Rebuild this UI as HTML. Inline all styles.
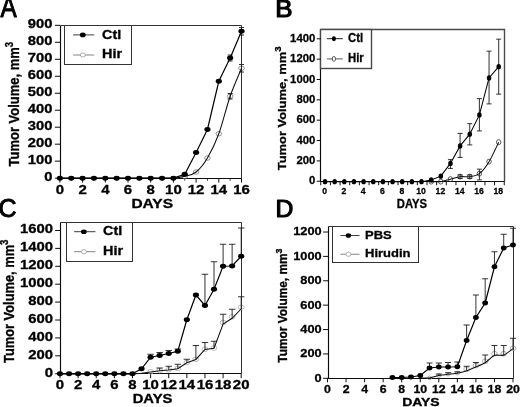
<!DOCTYPE html>
<html lang="en"><head><meta charset="utf-8"><title>Tumor volume figure</title>
<style>
html,body{margin:0;padding:0;background:#fff;overflow:hidden}
svg{display:block;font-family:"Liberation Sans",sans-serif}
</style></head>
<body>
<svg width="520" height="407" viewBox="0 0 520 407">
<defs><filter id="soft0" x="0" y="0" width="100%" height="100%" filterUnits="userSpaceOnUse"><feGaussianBlur stdDeviation="0.22"/></filter><filter id="soft" x="0" y="0" width="100%" height="100%" filterUnits="userSpaceOnUse"><feGaussianBlur stdDeviation="0.4"/></filter></defs>
<rect width="520" height="407" fill="#fff"/>
<g filter="url(#soft0)">
<path d="M60.5 25.5H241.5V178.5" fill="none" stroke="#333" stroke-width="1"/>
<path d="M60.5 25.5V178.5H241.5" fill="none" stroke="#111" stroke-width="1.15"/>
<rect x="64.5" y="25.5" width="67.0" height="39.0" fill="#fff" stroke="#333" stroke-width="1"/>
<path d="M320.5 29.5H504.5V181.5" fill="none" stroke="#4a4a4a" stroke-width="1.4"/>
<path d="M320.5 29.5V181.5H504.5" fill="none" stroke="#111" stroke-width="1.15"/>
<rect x="320.5" y="29.5" width="51.0" height="39.0" fill="#fff" stroke="#4a4a4a" stroke-width="1.4"/>
<path d="M60.5 222.5H241.5V373.5" fill="none" stroke="#333" stroke-width="1"/>
<path d="M60.5 222.5V373.5H241.5" fill="none" stroke="#111" stroke-width="1.15"/>
<rect x="66.5" y="222.5" width="66.0" height="39.0" fill="#fff" stroke="#333" stroke-width="1"/>
<path d="M328.5 226.5H513.5V378.5" fill="none" stroke="#333" stroke-width="1"/>
<path d="M328.5 226.5V378.5H513.5" fill="none" stroke="#111" stroke-width="1.15"/>
<rect x="332.5" y="226.5" width="86.0" height="36.0" fill="#fff" stroke="#333" stroke-width="1"/>
</g>
<g filter="url(#soft)">
<path d="M54.90 178.15H60.1" stroke="#111" stroke-width="1"/>
<text transform="translate(52.40,181.25) scale(1.2,1.0)" font-size="12.3" text-anchor="end" font-weight="bold" fill="#000" stroke="#000" stroke-width="0.3">0</text>
<path d="M54.90 161.17H60.1" stroke="#111" stroke-width="1"/>
<text transform="translate(52.40,164.27) scale(1.2,1.0)" font-size="12.3" text-anchor="end" font-weight="bold" fill="#000" stroke="#000" stroke-width="0.3">100</text>
<path d="M54.90 144.19H60.1" stroke="#111" stroke-width="1"/>
<text transform="translate(52.40,147.29) scale(1.2,1.0)" font-size="12.3" text-anchor="end" font-weight="bold" fill="#000" stroke="#000" stroke-width="0.3">200</text>
<path d="M54.90 127.21H60.1" stroke="#111" stroke-width="1"/>
<text transform="translate(52.40,130.31) scale(1.2,1.0)" font-size="12.3" text-anchor="end" font-weight="bold" fill="#000" stroke="#000" stroke-width="0.3">300</text>
<path d="M54.90 110.23H60.1" stroke="#111" stroke-width="1"/>
<text transform="translate(52.40,113.33) scale(1.2,1.0)" font-size="12.3" text-anchor="end" font-weight="bold" fill="#000" stroke="#000" stroke-width="0.3">400</text>
<path d="M54.90 93.25H60.1" stroke="#111" stroke-width="1"/>
<text transform="translate(52.40,96.35) scale(1.2,1.0)" font-size="12.3" text-anchor="end" font-weight="bold" fill="#000" stroke="#000" stroke-width="0.3">500</text>
<path d="M54.90 76.27H60.1" stroke="#111" stroke-width="1"/>
<text transform="translate(52.40,79.37) scale(1.2,1.0)" font-size="12.3" text-anchor="end" font-weight="bold" fill="#000" stroke="#000" stroke-width="0.3">600</text>
<path d="M54.90 59.29H60.1" stroke="#111" stroke-width="1"/>
<text transform="translate(52.40,62.39) scale(1.2,1.0)" font-size="12.3" text-anchor="end" font-weight="bold" fill="#000" stroke="#000" stroke-width="0.3">700</text>
<path d="M54.90 42.31H60.1" stroke="#111" stroke-width="1"/>
<text transform="translate(52.40,45.41) scale(1.2,1.0)" font-size="12.3" text-anchor="end" font-weight="bold" fill="#000" stroke="#000" stroke-width="0.3">800</text>
<path d="M54.90 25.33H60.1" stroke="#111" stroke-width="1"/>
<text transform="translate(52.40,28.43) scale(1.2,1.0)" font-size="12.3" text-anchor="end" font-weight="bold" fill="#000" stroke="#000" stroke-width="0.3">900</text>
<path d="M59.90 178.15V182.55" stroke="#111" stroke-width="1"/>
<path d="M82.60 178.15V182.55" stroke="#111" stroke-width="1"/>
<path d="M105.30 178.15V182.55" stroke="#111" stroke-width="1"/>
<path d="M128.00 178.15V182.55" stroke="#111" stroke-width="1"/>
<path d="M150.70 178.15V182.55" stroke="#111" stroke-width="1"/>
<path d="M173.40 178.15V182.55" stroke="#111" stroke-width="1"/>
<path d="M196.10 178.15V182.55" stroke="#111" stroke-width="1"/>
<path d="M218.80 178.15V182.55" stroke="#111" stroke-width="1"/>
<path d="M241.50 178.15V182.55" stroke="#111" stroke-width="1"/>
<path d="M71.25 178.15V180.75" stroke="#111" stroke-width="0.8"/>
<path d="M93.95 178.15V180.75" stroke="#111" stroke-width="0.8"/>
<path d="M116.65 178.15V180.75" stroke="#111" stroke-width="0.8"/>
<path d="M139.35 178.15V180.75" stroke="#111" stroke-width="0.8"/>
<path d="M162.05 178.15V180.75" stroke="#111" stroke-width="0.8"/>
<path d="M184.75 178.15V180.75" stroke="#111" stroke-width="0.8"/>
<path d="M207.45 178.15V180.75" stroke="#111" stroke-width="0.8"/>
<path d="M230.15 178.15V180.75" stroke="#111" stroke-width="0.8"/>
<text transform="translate(59.90,194.00) scale(1.17,1.0)" font-size="12.8" text-anchor="middle" font-weight="bold" fill="#000" stroke="#000" stroke-width="0.3">0</text>
<text transform="translate(82.60,194.00) scale(1.17,1.0)" font-size="12.8" text-anchor="middle" font-weight="bold" fill="#000" stroke="#000" stroke-width="0.3">2</text>
<text transform="translate(105.30,194.00) scale(1.17,1.0)" font-size="12.8" text-anchor="middle" font-weight="bold" fill="#000" stroke="#000" stroke-width="0.3">4</text>
<text transform="translate(128.00,194.00) scale(1.17,1.0)" font-size="12.8" text-anchor="middle" font-weight="bold" fill="#000" stroke="#000" stroke-width="0.3">6</text>
<text transform="translate(150.70,194.00) scale(1.17,1.0)" font-size="12.8" text-anchor="middle" font-weight="bold" fill="#000" stroke="#000" stroke-width="0.3">8</text>
<text transform="translate(173.40,194.00) scale(1.17,1.0)" font-size="12.8" text-anchor="middle" font-weight="bold" fill="#000" stroke="#000" stroke-width="0.3">10</text>
<text transform="translate(196.10,194.00) scale(1.17,1.0)" font-size="12.8" text-anchor="middle" font-weight="bold" fill="#000" stroke="#000" stroke-width="0.3">12</text>
<text transform="translate(218.80,194.00) scale(1.17,1.0)" font-size="12.8" text-anchor="middle" font-weight="bold" fill="#000" stroke="#000" stroke-width="0.3">14</text>
<text transform="translate(241.50,194.00) scale(1.17,1.0)" font-size="12.8" text-anchor="middle" font-weight="bold" fill="#000" stroke="#000" stroke-width="0.3">16</text>
<text transform="translate(152.20,208.00) scale(1.29,1.0)" font-size="12" text-anchor="middle" font-weight="bold" fill="#000" stroke="#000" stroke-width="0.3">DAYS</text>
<text transform="translate(18.90,104.15) rotate(-90) scale(1.03,1.22)" font-size="12.6" text-anchor="middle" font-weight="bold" fill="#000" stroke="#000" stroke-width="0.3">Tumor Volume, mm<tspan font-size="9.4" dy="-4.8">3</tspan></text>
<text transform="translate(0.50,17.20) scale(0.81,1.0)" font-size="30" text-anchor="start" font-weight="normal" fill="#000" stroke="#000" stroke-width="1.0" stroke-linejoin="round">A</text>
<g transform="translate(0,0)">
<ellipse cx="184.75" cy="176.3" rx="2.80" ry="2.24" fill="none" stroke="#777" stroke-width="0.8"/>
<ellipse cx="196.10" cy="172" rx="2.80" ry="2.24" fill="none" stroke="#777" stroke-width="0.8"/>
<ellipse cx="207.45" cy="158" rx="2.80" ry="2.24" fill="none" stroke="#777" stroke-width="0.8"/>
<ellipse cx="218.80" cy="133.75" rx="2.80" ry="2.24" fill="none" stroke="#777" stroke-width="0.8"/>
<ellipse cx="230.15" cy="96.25" rx="2.80" ry="2.24" fill="none" stroke="#777" stroke-width="0.8"/>
<ellipse cx="241.50" cy="68.25" rx="2.80" ry="2.24" fill="none" stroke="#777" stroke-width="0.8"/>
<path d="M230.15 93.5V99M227.65 93.5h5.0" stroke="#1c1c1c" stroke-width="0.9" fill="none"/>
<path d="M227.65 99h5.0" stroke="#1c1c1c" stroke-width="0.9" fill="none"/>
<path d="M241.50 64.5V72M239.00 64.5h5.0" stroke="#1c1c1c" stroke-width="0.9" fill="none"/>
<path d="M239.00 72h5.0" stroke="#1c1c1c" stroke-width="0.9" fill="none"/>
<path d="M59.90 178.15C61.79 178.15 67.47 178.15 71.25 178.15C75.03 178.15 78.82 178.15 82.60 178.15C86.38 178.15 90.17 178.15 93.95 178.15C97.73 178.15 101.52 178.15 105.30 178.15C109.08 178.15 112.87 178.15 116.65 178.15C120.43 178.15 124.22 178.15 128.00 178.15C131.78 178.15 135.57 178.15 139.35 178.15C143.13 178.15 146.92 178.15 150.70 178.15C154.48 178.15 158.27 178.15 162.05 178.15C165.83 178.15 169.62 178.46 173.40 178.15C177.18 177.84 180.97 177.33 184.75 176.30C188.53 175.28 192.32 175.05 196.10 172.00C199.88 168.95 203.67 164.38 207.45 158.00C211.23 151.62 215.02 144.04 218.80 133.75C222.58 123.46 226.37 107.17 230.15 96.25C233.93 85.33 239.61 72.92 241.50 68.25" fill="none" stroke="#111" stroke-width="1.05"/>
<path d="M230.15 55V61M227.65 55h5.0" stroke="#1c1c1c" stroke-width="0.9" fill="none"/>
<path d="M227.65 61h5.0" stroke="#1c1c1c" stroke-width="0.9" fill="none"/>
<path d="M241.50 27.5V35M239.00 27.5h5.0" stroke="#1c1c1c" stroke-width="0.9" fill="none"/>
<path d="M239.00 35h5.0" stroke="#1c1c1c" stroke-width="0.9" fill="none"/>
<polyline points="59.90,178.15 71.25,178.15 82.60,178.15 93.95,178.15 105.30,178.15 116.65,178.15 128.00,178.15 139.35,178.15 150.70,178.15 162.05,178.15 173.40,178.15 184.75,174.25 196.10,152.5 207.45,129.5 218.80,81.25 230.15,58 241.50,31.25" fill="none" stroke="#000" stroke-width="1.2"/>
<ellipse cx="59.90" cy="178.15" rx="3.1" ry="2.48" fill="#000"/>
<ellipse cx="71.25" cy="178.15" rx="3.1" ry="2.48" fill="#000"/>
<ellipse cx="82.60" cy="178.15" rx="3.1" ry="2.48" fill="#000"/>
<ellipse cx="93.95" cy="178.15" rx="3.1" ry="2.48" fill="#000"/>
<ellipse cx="105.30" cy="178.15" rx="3.1" ry="2.48" fill="#000"/>
<ellipse cx="116.65" cy="178.15" rx="3.1" ry="2.48" fill="#000"/>
<ellipse cx="128.00" cy="178.15" rx="3.1" ry="2.48" fill="#000"/>
<ellipse cx="139.35" cy="178.15" rx="3.1" ry="2.48" fill="#000"/>
<ellipse cx="150.70" cy="178.15" rx="3.1" ry="2.48" fill="#000"/>
<ellipse cx="162.05" cy="178.15" rx="3.1" ry="2.48" fill="#000"/>
<ellipse cx="173.40" cy="178.15" rx="3.1" ry="2.48" fill="#000"/>
<ellipse cx="184.75" cy="174.25" rx="3.1" ry="2.48" fill="#000"/>
<ellipse cx="196.10" cy="152.5" rx="3.1" ry="2.48" fill="#000"/>
<ellipse cx="207.45" cy="129.5" rx="3.1" ry="2.48" fill="#000"/>
<ellipse cx="218.80" cy="81.25" rx="3.1" ry="2.48" fill="#000"/>
<ellipse cx="230.15" cy="58" rx="3.1" ry="2.48" fill="#000"/>
<ellipse cx="241.50" cy="31.25" rx="3.1" ry="2.48" fill="#000"/>
</g>
<path d="M73.1 34.9H94.2" stroke="#333" stroke-width="0.95"/>
<ellipse cx="82.8" cy="34.9" rx="2.9" ry="2.32" fill="#000"/>
<path d="M73.1 55.0H94.2" stroke="#777" stroke-width="0.9"/>
<ellipse cx="82.8" cy="55.0" rx="2.5" ry="2.00" fill="#fff" stroke="#999" stroke-width="0.8"/>
<text transform="translate(102.00,38.90) scale(1.2,1.0)" font-size="12" text-anchor="start" font-weight="bold" fill="#000" stroke="#000" stroke-width="0.3">Ctl</text>
<text transform="translate(102.00,58.00) scale(1.2,1.0)" font-size="12" text-anchor="start" font-weight="bold" fill="#000" stroke="#000" stroke-width="0.3">Hir</text>
<path d="M316.75 181.25H320.75" stroke="#111" stroke-width="1"/>
<text transform="translate(315.25,184.35) scale(0.96,1.0)" font-size="11.8" text-anchor="end" font-weight="bold" fill="#000" stroke="#000" stroke-width="0.3">0</text>
<path d="M316.75 160.90H320.75" stroke="#111" stroke-width="1"/>
<text transform="translate(315.25,164.00) scale(0.96,1.0)" font-size="11.8" text-anchor="end" font-weight="bold" fill="#000" stroke="#000" stroke-width="0.3">200</text>
<path d="M316.75 140.55H320.75" stroke="#111" stroke-width="1"/>
<text transform="translate(315.25,143.65) scale(0.96,1.0)" font-size="11.8" text-anchor="end" font-weight="bold" fill="#000" stroke="#000" stroke-width="0.3">400</text>
<path d="M316.75 120.20H320.75" stroke="#111" stroke-width="1"/>
<text transform="translate(315.25,123.30) scale(0.96,1.0)" font-size="11.8" text-anchor="end" font-weight="bold" fill="#000" stroke="#000" stroke-width="0.3">600</text>
<path d="M316.75 99.85H320.75" stroke="#111" stroke-width="1"/>
<text transform="translate(315.25,102.95) scale(0.96,1.0)" font-size="11.8" text-anchor="end" font-weight="bold" fill="#000" stroke="#000" stroke-width="0.3">800</text>
<path d="M316.75 79.50H320.75" stroke="#111" stroke-width="1"/>
<text transform="translate(315.25,82.60) scale(0.96,1.0)" font-size="11.8" text-anchor="end" font-weight="bold" fill="#000" stroke="#000" stroke-width="0.3">1000</text>
<path d="M316.75 59.15H320.75" stroke="#111" stroke-width="1"/>
<text transform="translate(315.25,62.25) scale(0.96,1.0)" font-size="11.8" text-anchor="end" font-weight="bold" fill="#000" stroke="#000" stroke-width="0.3">1200</text>
<path d="M316.75 38.80H320.75" stroke="#111" stroke-width="1"/>
<text transform="translate(315.25,41.90) scale(0.96,1.0)" font-size="11.8" text-anchor="end" font-weight="bold" fill="#000" stroke="#000" stroke-width="0.3">1400</text>
<path d="M320.75 181.25V185.25" stroke="#111" stroke-width="1"/>
<path d="M330.41 181.25V185.25" stroke="#111" stroke-width="1"/>
<path d="M340.07 181.25V185.25" stroke="#111" stroke-width="1"/>
<path d="M349.72 181.25V185.25" stroke="#111" stroke-width="1"/>
<path d="M359.38 181.25V185.25" stroke="#111" stroke-width="1"/>
<path d="M369.04 181.25V185.25" stroke="#111" stroke-width="1"/>
<path d="M378.70 181.25V185.25" stroke="#111" stroke-width="1"/>
<path d="M388.36 181.25V185.25" stroke="#111" stroke-width="1"/>
<path d="M398.01 181.25V185.25" stroke="#111" stroke-width="1"/>
<path d="M407.67 181.25V185.25" stroke="#111" stroke-width="1"/>
<path d="M417.33 181.25V185.25" stroke="#111" stroke-width="1"/>
<path d="M426.99 181.25V185.25" stroke="#111" stroke-width="1"/>
<path d="M436.65 181.25V185.25" stroke="#111" stroke-width="1"/>
<path d="M446.30 181.25V185.25" stroke="#111" stroke-width="1"/>
<path d="M455.96 181.25V185.25" stroke="#111" stroke-width="1"/>
<path d="M465.62 181.25V185.25" stroke="#111" stroke-width="1"/>
<path d="M475.28 181.25V185.25" stroke="#111" stroke-width="1"/>
<path d="M484.94 181.25V185.25" stroke="#111" stroke-width="1"/>
<path d="M494.59 181.25V185.25" stroke="#111" stroke-width="1"/>
<path d="M504.25 181.25V185.25" stroke="#111" stroke-width="1"/>
<text transform="translate(324.60,194.20) scale(0.92,1.0)" font-size="9.4" text-anchor="middle" font-weight="bold" fill="#000" stroke="#000" stroke-width="0.3">0</text>
<text transform="translate(343.90,194.20) scale(0.92,1.0)" font-size="9.4" text-anchor="middle" font-weight="bold" fill="#000" stroke="#000" stroke-width="0.3">2</text>
<text transform="translate(363.20,194.20) scale(0.92,1.0)" font-size="9.4" text-anchor="middle" font-weight="bold" fill="#000" stroke="#000" stroke-width="0.3">4</text>
<text transform="translate(382.50,194.20) scale(0.92,1.0)" font-size="9.4" text-anchor="middle" font-weight="bold" fill="#000" stroke="#000" stroke-width="0.3">6</text>
<text transform="translate(401.80,194.20) scale(0.92,1.0)" font-size="9.4" text-anchor="middle" font-weight="bold" fill="#000" stroke="#000" stroke-width="0.3">8</text>
<text transform="translate(421.10,194.20) scale(0.92,1.0)" font-size="9.4" text-anchor="middle" font-weight="bold" fill="#000" stroke="#000" stroke-width="0.3">10</text>
<text transform="translate(440.40,194.20) scale(0.92,1.0)" font-size="9.4" text-anchor="middle" font-weight="bold" fill="#000" stroke="#000" stroke-width="0.3">12</text>
<text transform="translate(459.70,194.20) scale(0.92,1.0)" font-size="9.4" text-anchor="middle" font-weight="bold" fill="#000" stroke="#000" stroke-width="0.3">14</text>
<text transform="translate(479.00,194.20) scale(0.92,1.0)" font-size="9.4" text-anchor="middle" font-weight="bold" fill="#000" stroke="#000" stroke-width="0.3">16</text>
<text transform="translate(498.30,194.20) scale(0.92,1.0)" font-size="9.4" text-anchor="middle" font-weight="bold" fill="#000" stroke="#000" stroke-width="0.3">18</text>
<text transform="translate(411.90,208.20) scale(0.94,1.0)" font-size="12" text-anchor="middle" font-weight="bold" fill="#000" stroke="#000" stroke-width="0.3">DAYS</text>
<text transform="translate(285.80,108.30) rotate(-90) scale(1.14,1.02)" font-size="11.3" text-anchor="middle" font-weight="bold" fill="#000" stroke="#000" stroke-width="0.3">Tumor Volume, mm<tspan font-size="8.5" dy="-4.3">3</tspan></text>
<text transform="translate(275.30,17.30) scale(1.08,1.0)" font-size="24" text-anchor="start" font-weight="normal" fill="#000" stroke="#000" stroke-width="1.15" stroke-linejoin="round">B</text>
<g transform="translate(0.4,0.4)">
<ellipse cx="430.75" cy="181.25" rx="2.25" ry="2.48" fill="none" stroke="#333" stroke-width="0.8"/>
<ellipse cx="440.40" cy="181.25" rx="2.25" ry="2.48" fill="none" stroke="#333" stroke-width="0.8"/>
<ellipse cx="450.05" cy="178.75" rx="2.25" ry="2.48" fill="none" stroke="#333" stroke-width="0.8"/>
<ellipse cx="459.70" cy="176.25" rx="2.25" ry="2.48" fill="none" stroke="#333" stroke-width="0.8"/>
<ellipse cx="469.35" cy="176.25" rx="2.25" ry="2.48" fill="none" stroke="#333" stroke-width="0.8"/>
<ellipse cx="479.00" cy="173.25" rx="2.25" ry="2.48" fill="none" stroke="#333" stroke-width="0.8"/>
<ellipse cx="488.65" cy="161.25" rx="2.25" ry="2.48" fill="none" stroke="#333" stroke-width="0.8"/>
<ellipse cx="498.30" cy="141.75" rx="2.25" ry="2.48" fill="none" stroke="#333" stroke-width="0.8"/>
<path d="M459.70 174.5V178M457.20 174.5h5.0" stroke="#1c1c1c" stroke-width="0.9" fill="none"/>
<path d="M457.20 178h5.0" stroke="#1c1c1c" stroke-width="0.9" fill="none"/>
<path d="M469.35 174.5V178M466.85 174.5h5.0" stroke="#1c1c1c" stroke-width="0.9" fill="none"/>
<path d="M466.85 178h5.0" stroke="#1c1c1c" stroke-width="0.9" fill="none"/>
<path d="M479.00 168.75V179.5M476.50 168.75h5.0" stroke="#1c1c1c" stroke-width="0.9" fill="none"/>
<path d="M476.50 179.5h5.0" stroke="#1c1c1c" stroke-width="0.9" fill="none"/>
<path d="M430.75 181.25C432.36 181.25 437.18 181.67 440.40 181.25C443.62 180.83 446.83 179.58 450.05 178.75C453.27 177.92 456.48 176.67 459.70 176.25C462.92 175.83 466.13 176.75 469.35 176.25C472.57 175.75 475.78 175.75 479.00 173.25C482.22 170.75 485.43 166.50 488.65 161.25C491.87 156.00 496.69 145.00 498.30 141.75" fill="none" stroke="#111" stroke-width="1.05"/>
<path d="M450.05 159.25V168M447.55 159.25h5.0" stroke="#1c1c1c" stroke-width="0.9" fill="none"/>
<path d="M447.55 168h5.0" stroke="#1c1c1c" stroke-width="0.9" fill="none"/>
<path d="M459.70 133V157M457.20 133h5.0" stroke="#1c1c1c" stroke-width="0.9" fill="none"/>
<path d="M457.20 157h5.0" stroke="#1c1c1c" stroke-width="0.9" fill="none"/>
<path d="M469.35 123.25V144.5M466.85 123.25h5.0" stroke="#1c1c1c" stroke-width="0.9" fill="none"/>
<path d="M466.85 144.5h5.0" stroke="#1c1c1c" stroke-width="0.9" fill="none"/>
<path d="M479.00 98.25V130.5M476.50 98.25h5.0" stroke="#1c1c1c" stroke-width="0.9" fill="none"/>
<path d="M476.50 130.5h5.0" stroke="#1c1c1c" stroke-width="0.9" fill="none"/>
<path d="M488.65 50.75V103.5M486.15 50.75h5.0" stroke="#1c1c1c" stroke-width="0.9" fill="none"/>
<path d="M486.15 103.5h5.0" stroke="#1c1c1c" stroke-width="0.9" fill="none"/>
<path d="M498.30 38.75V93.75M495.80 38.75h5.0" stroke="#1c1c1c" stroke-width="0.9" fill="none"/>
<path d="M495.80 93.75h5.0" stroke="#1c1c1c" stroke-width="0.9" fill="none"/>
<polyline points="324.60,181.25 334.25,181.25 343.90,181.25 353.55,181.25 363.20,181.25 372.85,181.25 382.50,181.25 392.15,181.25 401.80,181.25 411.45,181.25 421.10,181.25 430.75,179.5 440.40,175.75 450.05,163 459.70,145.5 469.35,133.75 479.00,114.5 488.65,77.5 498.30,66.25" fill="none" stroke="#000" stroke-width="1.05"/>
<ellipse cx="324.60" cy="181.25" rx="2.25" ry="2.70" fill="#000"/>
<ellipse cx="334.25" cy="181.25" rx="2.25" ry="2.70" fill="#000"/>
<ellipse cx="343.90" cy="181.25" rx="2.25" ry="2.70" fill="#000"/>
<ellipse cx="353.55" cy="181.25" rx="2.25" ry="2.70" fill="#000"/>
<ellipse cx="363.20" cy="181.25" rx="2.25" ry="2.70" fill="#000"/>
<ellipse cx="372.85" cy="181.25" rx="2.25" ry="2.70" fill="#000"/>
<ellipse cx="382.50" cy="181.25" rx="2.25" ry="2.70" fill="#000"/>
<ellipse cx="392.15" cy="181.25" rx="2.25" ry="2.70" fill="#000"/>
<ellipse cx="401.80" cy="181.25" rx="2.25" ry="2.70" fill="#000"/>
<ellipse cx="411.45" cy="181.25" rx="2.25" ry="2.70" fill="#000"/>
<ellipse cx="421.10" cy="181.25" rx="2.25" ry="2.70" fill="#000"/>
<ellipse cx="430.75" cy="179.5" rx="2.25" ry="2.70" fill="#000"/>
<ellipse cx="440.40" cy="175.75" rx="2.25" ry="2.70" fill="#000"/>
<ellipse cx="450.05" cy="163" rx="2.25" ry="2.70" fill="#000"/>
<ellipse cx="459.70" cy="145.5" rx="2.25" ry="2.70" fill="#000"/>
<ellipse cx="469.35" cy="133.75" rx="2.25" ry="2.70" fill="#000"/>
<ellipse cx="479.00" cy="114.5" rx="2.25" ry="2.70" fill="#000"/>
<ellipse cx="488.65" cy="77.5" rx="2.25" ry="2.70" fill="#000"/>
<ellipse cx="498.30" cy="66.25" rx="2.25" ry="2.70" fill="#000"/>
</g>
<path d="M327 38.7H342.8" stroke="#222" stroke-width="1.0"/>
<ellipse cx="333.9" cy="38.7" rx="2.05" ry="2.46" fill="#000"/>
<path d="M327 58.9H342.8" stroke="#444" stroke-width="0.9"/>
<ellipse cx="333.9" cy="58.9" rx="1.6" ry="2.50" fill="#fff" stroke="#333" stroke-width="0.8"/>
<text transform="translate(348.00,42.10) scale(0.9,1.0)" font-size="12.6" text-anchor="start" font-weight="bold" fill="#000" stroke="#000" stroke-width="0.3">Ctl</text>
<text transform="translate(348.00,61.60) scale(0.9,1.0)" font-size="12.6" text-anchor="start" font-weight="bold" fill="#000" stroke="#000" stroke-width="0.3">Hir</text>
<path d="M55.20 373.70H60.2" stroke="#111" stroke-width="1"/>
<text transform="translate(53.00,376.60) scale(1.21,1.0)" font-size="12.3" text-anchor="end" font-weight="bold" fill="#000" stroke="#000" stroke-width="0.3">0</text>
<path d="M55.20 355.80H60.2" stroke="#111" stroke-width="1"/>
<text transform="translate(53.00,358.70) scale(1.21,1.0)" font-size="12.3" text-anchor="end" font-weight="bold" fill="#000" stroke="#000" stroke-width="0.3">200</text>
<path d="M55.20 337.90H60.2" stroke="#111" stroke-width="1"/>
<text transform="translate(53.00,340.80) scale(1.21,1.0)" font-size="12.3" text-anchor="end" font-weight="bold" fill="#000" stroke="#000" stroke-width="0.3">400</text>
<path d="M55.20 320.00H60.2" stroke="#111" stroke-width="1"/>
<text transform="translate(53.00,322.90) scale(1.21,1.0)" font-size="12.3" text-anchor="end" font-weight="bold" fill="#000" stroke="#000" stroke-width="0.3">600</text>
<path d="M55.20 302.10H60.2" stroke="#111" stroke-width="1"/>
<text transform="translate(53.00,305.00) scale(1.21,1.0)" font-size="12.3" text-anchor="end" font-weight="bold" fill="#000" stroke="#000" stroke-width="0.3">800</text>
<path d="M55.20 284.20H60.2" stroke="#111" stroke-width="1"/>
<text transform="translate(53.00,287.10) scale(1.21,1.0)" font-size="12.3" text-anchor="end" font-weight="bold" fill="#000" stroke="#000" stroke-width="0.3">1000</text>
<path d="M55.20 266.30H60.2" stroke="#111" stroke-width="1"/>
<text transform="translate(53.00,269.20) scale(1.21,1.0)" font-size="12.3" text-anchor="end" font-weight="bold" fill="#000" stroke="#000" stroke-width="0.3">1200</text>
<path d="M55.20 248.40H60.2" stroke="#111" stroke-width="1"/>
<text transform="translate(53.00,251.30) scale(1.21,1.0)" font-size="12.3" text-anchor="end" font-weight="bold" fill="#000" stroke="#000" stroke-width="0.3">1400</text>
<path d="M55.20 230.50H60.2" stroke="#111" stroke-width="1"/>
<text transform="translate(53.00,233.40) scale(1.21,1.0)" font-size="12.3" text-anchor="end" font-weight="bold" fill="#000" stroke="#000" stroke-width="0.3">1600</text>
<path d="M60.00 373.7V378.2" stroke="#111" stroke-width="1"/>
<path d="M78.12 373.7V378.2" stroke="#111" stroke-width="1"/>
<path d="M96.24 373.7V378.2" stroke="#111" stroke-width="1"/>
<path d="M114.36 373.7V378.2" stroke="#111" stroke-width="1"/>
<path d="M132.48 373.7V378.2" stroke="#111" stroke-width="1"/>
<path d="M150.60 373.7V378.2" stroke="#111" stroke-width="1"/>
<path d="M168.72 373.7V378.2" stroke="#111" stroke-width="1"/>
<path d="M186.84 373.7V378.2" stroke="#111" stroke-width="1"/>
<path d="M204.96 373.7V378.2" stroke="#111" stroke-width="1"/>
<path d="M223.08 373.7V378.2" stroke="#111" stroke-width="1"/>
<path d="M241.20 373.7V378.2" stroke="#111" stroke-width="1"/>
<text transform="translate(60.00,388.90) scale(1.17,1.0)" font-size="12.8" text-anchor="middle" font-weight="bold" fill="#000" stroke="#000" stroke-width="0.3">0</text>
<text transform="translate(78.12,388.90) scale(1.17,1.0)" font-size="12.8" text-anchor="middle" font-weight="bold" fill="#000" stroke="#000" stroke-width="0.3">2</text>
<text transform="translate(96.24,388.90) scale(1.17,1.0)" font-size="12.8" text-anchor="middle" font-weight="bold" fill="#000" stroke="#000" stroke-width="0.3">4</text>
<text transform="translate(114.36,388.90) scale(1.17,1.0)" font-size="12.8" text-anchor="middle" font-weight="bold" fill="#000" stroke="#000" stroke-width="0.3">6</text>
<text transform="translate(132.48,388.90) scale(1.17,1.0)" font-size="12.8" text-anchor="middle" font-weight="bold" fill="#000" stroke="#000" stroke-width="0.3">8</text>
<text transform="translate(150.60,388.90) scale(1.17,1.0)" font-size="12.8" text-anchor="middle" font-weight="bold" fill="#000" stroke="#000" stroke-width="0.3">10</text>
<text transform="translate(168.72,388.90) scale(1.17,1.0)" font-size="12.8" text-anchor="middle" font-weight="bold" fill="#000" stroke="#000" stroke-width="0.3">12</text>
<text transform="translate(186.84,388.90) scale(1.17,1.0)" font-size="12.8" text-anchor="middle" font-weight="bold" fill="#000" stroke="#000" stroke-width="0.3">14</text>
<text transform="translate(204.96,388.90) scale(1.17,1.0)" font-size="12.8" text-anchor="middle" font-weight="bold" fill="#000" stroke="#000" stroke-width="0.3">16</text>
<text transform="translate(223.08,388.90) scale(1.17,1.0)" font-size="12.8" text-anchor="middle" font-weight="bold" fill="#000" stroke="#000" stroke-width="0.3">18</text>
<text transform="translate(241.20,388.90) scale(1.17,1.0)" font-size="12.8" text-anchor="middle" font-weight="bold" fill="#000" stroke="#000" stroke-width="0.3">20</text>
<text transform="translate(152.50,403.00) scale(1.23,1.0)" font-size="12" text-anchor="middle" font-weight="bold" fill="#000" stroke="#000" stroke-width="0.3">DAYS</text>
<text transform="translate(14.00,301.25) rotate(-90) scale(1.03,1.18)" font-size="12.5" text-anchor="middle" font-weight="bold" fill="#000" stroke="#000" stroke-width="0.3">Tumor Volume, mm<tspan font-size="9.4" dy="-4.8">3</tspan></text>
<text transform="translate(-1.40,217.10)" font-size="25" text-anchor="start" font-weight="normal" fill="#000" stroke="#000" stroke-width="1.0" stroke-linejoin="round">C</text>
<g transform="translate(0,0.5)">
<ellipse cx="150.60" cy="371.25" rx="2.90" ry="2.32" fill="none" stroke="#aaa" stroke-width="0.8"/>
<ellipse cx="159.66" cy="370" rx="2.90" ry="2.32" fill="none" stroke="#aaa" stroke-width="0.8"/>
<ellipse cx="168.72" cy="369.25" rx="2.90" ry="2.32" fill="none" stroke="#aaa" stroke-width="0.8"/>
<ellipse cx="177.78" cy="368" rx="2.90" ry="2.32" fill="none" stroke="#aaa" stroke-width="0.8"/>
<ellipse cx="186.84" cy="362" rx="2.90" ry="2.32" fill="none" stroke="#aaa" stroke-width="0.8"/>
<ellipse cx="195.90" cy="358.75" rx="2.90" ry="2.32" fill="none" stroke="#aaa" stroke-width="0.8"/>
<ellipse cx="204.96" cy="348.75" rx="2.90" ry="2.32" fill="none" stroke="#aaa" stroke-width="0.8"/>
<ellipse cx="214.02" cy="347.5" rx="2.90" ry="2.32" fill="none" stroke="#aaa" stroke-width="0.8"/>
<ellipse cx="223.08" cy="322" rx="2.90" ry="2.32" fill="none" stroke="#aaa" stroke-width="0.8"/>
<ellipse cx="232.14" cy="316.25" rx="2.90" ry="2.32" fill="none" stroke="#aaa" stroke-width="0.8"/>
<ellipse cx="241.20" cy="306.75" rx="2.90" ry="2.32" fill="none" stroke="#aaa" stroke-width="0.8"/>
<path d="M159.66 367.5V370.2M156.46 367.5h6.4" stroke="#1c1c1c" stroke-width="0.9" fill="none"/>
<path d="M168.72 365.75V369.45M165.52 365.75h6.4" stroke="#1c1c1c" stroke-width="0.9" fill="none"/>
<path d="M177.78 363.75V368.2M174.58 363.75h6.4" stroke="#1c1c1c" stroke-width="0.9" fill="none"/>
<path d="M186.84 358.75V362.2M183.64 358.75h6.4" stroke="#1c1c1c" stroke-width="0.9" fill="none"/>
<path d="M195.90 345V358.95M192.70 345h6.4" stroke="#1c1c1c" stroke-width="0.9" fill="none"/>
<path d="M204.96 342V348.95M201.76 342h6.4" stroke="#1c1c1c" stroke-width="0.9" fill="none"/>
<path d="M214.02 340.75V347.7M210.82 340.75h6.4" stroke="#1c1c1c" stroke-width="0.9" fill="none"/>
<path d="M223.08 313.75V323.5M219.88 313.75h6.4" stroke="#1c1c1c" stroke-width="0.9" fill="none"/>
<path d="M232.14 308.75V317.75M228.94 308.75h6.4" stroke="#1c1c1c" stroke-width="0.9" fill="none"/>
<path d="M241.20 296.25V308.25M238.00 296.25h6.4" stroke="#1c1c1c" stroke-width="0.9" fill="none"/>
<polyline points="60.00,373.40 69.06,373.40 78.12,373.40 87.18,373.40 96.24,373.40 105.30,373.40 114.36,373.40 123.42,373.40 132.48,373.40 141.54,372.70 150.60,371.45 159.66,370.20 168.72,369.45 177.78,368.20 186.84,362.20 195.90,358.95 204.96,348.95 214.02,347.70 223.08,323.50 232.14,317.75 241.20,308.25" fill="none" stroke="#111" stroke-width="1.05"/>
<path d="M150.60 353.75V356.75M147.40 353.75h6.4" stroke="#1c1c1c" stroke-width="0.9" fill="none"/>
<path d="M159.66 352V355M156.46 352h6.4" stroke="#1c1c1c" stroke-width="0.9" fill="none"/>
<path d="M168.72 350V353M165.52 350h6.4" stroke="#1c1c1c" stroke-width="0.9" fill="none"/>
<path d="M177.78 348.5V350.75M174.58 348.5h6.4" stroke="#1c1c1c" stroke-width="0.9" fill="none"/>
<path d="M204.96 273.75V305M201.76 273.75h6.4" stroke="#1c1c1c" stroke-width="0.9" fill="none"/>
<path d="M214.02 261.25V288.75M210.82 261.25h6.4" stroke="#1c1c1c" stroke-width="0.9" fill="none"/>
<path d="M223.08 243.75V265.75M219.88 243.75h6.4" stroke="#1c1c1c" stroke-width="0.9" fill="none"/>
<path d="M232.14 243.75V265.5M228.94 243.75h6.4" stroke="#1c1c1c" stroke-width="0.9" fill="none"/>
<path d="M241.20 227.5V255.75M238.00 227.5h6.4" stroke="#1c1c1c" stroke-width="0.9" fill="none"/>
<polyline points="60.00,373.2 69.06,373.2 78.12,373.2 87.18,373.2 96.24,373.2 105.30,373.2 114.36,373.2 123.42,373.2 132.48,373.2 141.54,368.25 150.60,356.75 159.66,355 168.72,353 177.78,350.75 186.84,319.25 195.90,294.5 204.96,305 214.02,288.75 223.08,265.75 232.14,265.5 241.20,255.75" fill="none" stroke="#000" stroke-width="1.2"/>
<ellipse cx="60.00" cy="373.2" rx="3.1" ry="2.48" fill="#000"/>
<ellipse cx="69.06" cy="373.2" rx="3.1" ry="2.48" fill="#000"/>
<ellipse cx="78.12" cy="373.2" rx="3.1" ry="2.48" fill="#000"/>
<ellipse cx="87.18" cy="373.2" rx="3.1" ry="2.48" fill="#000"/>
<ellipse cx="96.24" cy="373.2" rx="3.1" ry="2.48" fill="#000"/>
<ellipse cx="105.30" cy="373.2" rx="3.1" ry="2.48" fill="#000"/>
<ellipse cx="114.36" cy="373.2" rx="3.1" ry="2.48" fill="#000"/>
<ellipse cx="123.42" cy="373.2" rx="3.1" ry="2.48" fill="#000"/>
<ellipse cx="132.48" cy="373.2" rx="3.1" ry="2.48" fill="#000"/>
<ellipse cx="141.54" cy="368.25" rx="3.1" ry="2.48" fill="#000"/>
<ellipse cx="150.60" cy="356.75" rx="3.1" ry="2.48" fill="#000"/>
<ellipse cx="159.66" cy="355" rx="3.1" ry="2.48" fill="#000"/>
<ellipse cx="168.72" cy="353" rx="3.1" ry="2.48" fill="#000"/>
<ellipse cx="177.78" cy="350.75" rx="3.1" ry="2.48" fill="#000"/>
<ellipse cx="186.84" cy="319.25" rx="3.1" ry="2.48" fill="#000"/>
<ellipse cx="195.90" cy="294.5" rx="3.1" ry="2.48" fill="#000"/>
<ellipse cx="204.96" cy="305" rx="3.1" ry="2.48" fill="#000"/>
<ellipse cx="214.02" cy="288.75" rx="3.1" ry="2.48" fill="#000"/>
<ellipse cx="223.08" cy="265.75" rx="3.1" ry="2.48" fill="#000"/>
<ellipse cx="232.14" cy="265.5" rx="3.1" ry="2.48" fill="#000"/>
<ellipse cx="241.20" cy="255.75" rx="3.1" ry="2.48" fill="#000"/>
</g>
<path d="M74.15 231.7H95.4" stroke="#333" stroke-width="0.95"/>
<ellipse cx="83.85" cy="231.7" rx="2.9" ry="2.32" fill="#000"/>
<path d="M74.15 251.7H95.4" stroke="#777" stroke-width="0.9"/>
<ellipse cx="83.85" cy="251.7" rx="2.6" ry="2.08" fill="#fff" stroke="#999" stroke-width="0.8"/>
<text transform="translate(103.00,235.30) scale(1.2,1.0)" font-size="12" text-anchor="start" font-weight="bold" fill="#000" stroke="#000" stroke-width="0.3">Ctl</text>
<text transform="translate(103.00,255.00) scale(1.2,1.0)" font-size="12" text-anchor="start" font-weight="bold" fill="#000" stroke="#000" stroke-width="0.3">Hir</text>
<path d="M323.10 378.30H328.0" stroke="#111" stroke-width="1"/>
<text transform="translate(321.60,381.70) scale(1.1,1.0)" font-size="11.6" text-anchor="end" font-weight="bold" fill="#000" stroke="#000" stroke-width="0.3">0</text>
<path d="M323.10 353.92H328.0" stroke="#111" stroke-width="1"/>
<text transform="translate(321.60,357.32) scale(1.1,1.0)" font-size="11.6" text-anchor="end" font-weight="bold" fill="#000" stroke="#000" stroke-width="0.3">200</text>
<path d="M323.10 329.54H328.0" stroke="#111" stroke-width="1"/>
<text transform="translate(321.60,332.94) scale(1.1,1.0)" font-size="11.6" text-anchor="end" font-weight="bold" fill="#000" stroke="#000" stroke-width="0.3">400</text>
<path d="M323.10 305.16H328.0" stroke="#111" stroke-width="1"/>
<text transform="translate(321.60,308.56) scale(1.1,1.0)" font-size="11.6" text-anchor="end" font-weight="bold" fill="#000" stroke="#000" stroke-width="0.3">600</text>
<path d="M323.10 280.78H328.0" stroke="#111" stroke-width="1"/>
<text transform="translate(321.60,284.18) scale(1.1,1.0)" font-size="11.6" text-anchor="end" font-weight="bold" fill="#000" stroke="#000" stroke-width="0.3">800</text>
<path d="M323.10 256.40H328.0" stroke="#111" stroke-width="1"/>
<text transform="translate(321.60,259.80) scale(1.1,1.0)" font-size="11.6" text-anchor="end" font-weight="bold" fill="#000" stroke="#000" stroke-width="0.3">1000</text>
<path d="M323.10 232.02H328.0" stroke="#111" stroke-width="1"/>
<text transform="translate(321.60,235.42) scale(1.1,1.0)" font-size="11.6" text-anchor="end" font-weight="bold" fill="#000" stroke="#000" stroke-width="0.3">1200</text>
<path d="M327.50 378.3V382.3" stroke="#111" stroke-width="1"/>
<path d="M346.05 378.3V382.3" stroke="#111" stroke-width="1"/>
<path d="M364.60 378.3V382.3" stroke="#111" stroke-width="1"/>
<path d="M383.15 378.3V382.3" stroke="#111" stroke-width="1"/>
<path d="M401.70 378.3V382.3" stroke="#111" stroke-width="1"/>
<path d="M420.25 378.3V382.3" stroke="#111" stroke-width="1"/>
<path d="M438.80 378.3V382.3" stroke="#111" stroke-width="1"/>
<path d="M457.35 378.3V382.3" stroke="#111" stroke-width="1"/>
<path d="M475.90 378.3V382.3" stroke="#111" stroke-width="1"/>
<path d="M494.45 378.3V382.3" stroke="#111" stroke-width="1"/>
<path d="M513.00 378.3V382.3" stroke="#111" stroke-width="1"/>
<text transform="translate(327.50,392.50) scale(1.1,1.0)" font-size="11.2" text-anchor="middle" font-weight="bold" fill="#000" stroke="#000" stroke-width="0.3">0</text>
<text transform="translate(346.05,392.50) scale(1.1,1.0)" font-size="11.2" text-anchor="middle" font-weight="bold" fill="#000" stroke="#000" stroke-width="0.3">2</text>
<text transform="translate(364.60,392.50) scale(1.1,1.0)" font-size="11.2" text-anchor="middle" font-weight="bold" fill="#000" stroke="#000" stroke-width="0.3">4</text>
<text transform="translate(383.15,392.50) scale(1.1,1.0)" font-size="11.2" text-anchor="middle" font-weight="bold" fill="#000" stroke="#000" stroke-width="0.3">6</text>
<text transform="translate(401.70,392.50) scale(1.1,1.0)" font-size="11.2" text-anchor="middle" font-weight="bold" fill="#000" stroke="#000" stroke-width="0.3">8</text>
<text transform="translate(420.25,392.50) scale(1.1,1.0)" font-size="11.2" text-anchor="middle" font-weight="bold" fill="#000" stroke="#000" stroke-width="0.3">10</text>
<text transform="translate(438.80,392.50) scale(1.1,1.0)" font-size="11.2" text-anchor="middle" font-weight="bold" fill="#000" stroke="#000" stroke-width="0.3">12</text>
<text transform="translate(457.35,392.50) scale(1.1,1.0)" font-size="11.2" text-anchor="middle" font-weight="bold" fill="#000" stroke="#000" stroke-width="0.3">14</text>
<text transform="translate(475.90,392.50) scale(1.1,1.0)" font-size="11.2" text-anchor="middle" font-weight="bold" fill="#000" stroke="#000" stroke-width="0.3">16</text>
<text transform="translate(494.45,392.50) scale(1.1,1.0)" font-size="11.2" text-anchor="middle" font-weight="bold" fill="#000" stroke="#000" stroke-width="0.3">18</text>
<text transform="translate(513.00,392.50) scale(1.1,1.0)" font-size="11.2" text-anchor="middle" font-weight="bold" fill="#000" stroke="#000" stroke-width="0.3">20</text>
<text transform="translate(420.90,405.50) scale(1.25,1.0)" font-size="11.2" text-anchor="middle" font-weight="bold" fill="#000" stroke="#000" stroke-width="0.3">DAYS</text>
<text transform="translate(286.85,305.55) rotate(-90) scale(1.0,1.11)" font-size="11.9" text-anchor="middle" font-weight="bold" fill="#000" stroke="#000" stroke-width="0.3">Tumor Volume, mm<tspan font-size="8.9" dy="-4.5">3</tspan></text>
<text transform="translate(275.40,216.90) scale(1.03,1.0)" font-size="24" text-anchor="start" font-weight="normal" fill="#000" stroke="#000" stroke-width="1.15" stroke-linejoin="round">D</text>
<g transform="translate(0,0)">
<ellipse cx="429.52" cy="377.9" rx="2.10" ry="1.78" fill="none" stroke="#999" stroke-width="0.8"/>
<ellipse cx="438.80" cy="375.5" rx="2.10" ry="1.78" fill="none" stroke="#999" stroke-width="0.8"/>
<ellipse cx="448.07" cy="374.2" rx="2.10" ry="1.78" fill="none" stroke="#999" stroke-width="0.8"/>
<ellipse cx="457.35" cy="373.2" rx="2.10" ry="1.78" fill="none" stroke="#999" stroke-width="0.8"/>
<ellipse cx="466.62" cy="369.25" rx="2.80" ry="2.38" fill="none" stroke="#999" stroke-width="0.8"/>
<ellipse cx="475.90" cy="365.5" rx="2.80" ry="2.38" fill="none" stroke="#999" stroke-width="0.8"/>
<ellipse cx="485.18" cy="361.25" rx="2.80" ry="2.38" fill="none" stroke="#999" stroke-width="0.8"/>
<ellipse cx="494.45" cy="353.75" rx="2.80" ry="2.38" fill="none" stroke="#999" stroke-width="0.8"/>
<ellipse cx="503.73" cy="353.75" rx="2.80" ry="2.38" fill="none" stroke="#999" stroke-width="0.8"/>
<ellipse cx="513.00" cy="348.25" rx="2.80" ry="2.38" fill="none" stroke="#999" stroke-width="0.8"/>
<path d="M438.80 374.0V375.5M435.80 374.0h6.0" stroke="#1c1c1c" stroke-width="0.9" fill="none"/>
<path d="M448.07 372.7V374.2M445.07 372.7h6.0" stroke="#1c1c1c" stroke-width="0.9" fill="none"/>
<path d="M457.35 371.8V373.2M454.35 371.8h6.0" stroke="#1c1c1c" stroke-width="0.9" fill="none"/>
<path d="M466.62 366.25V370.75M463.62 366.25h6.0" stroke="#1c1c1c" stroke-width="0.9" fill="none"/>
<path d="M475.90 362.5V367.0M472.90 362.5h6.0" stroke="#1c1c1c" stroke-width="0.9" fill="none"/>
<path d="M485.18 355V362.75M482.18 355h6.0" stroke="#1c1c1c" stroke-width="0.9" fill="none"/>
<path d="M494.45 345.5V355.25M491.45 345.5h6.0" stroke="#1c1c1c" stroke-width="0.9" fill="none"/>
<path d="M503.73 345.5V355.25M500.73 345.5h6.0" stroke="#1c1c1c" stroke-width="0.9" fill="none"/>
<path d="M513.00 338.25V348.55M510.00 338.25h6.0" stroke="#1c1c1c" stroke-width="0.9" fill="none"/>
<path d="M420.25 378.00C420.91 377.99 428.20 378.08 429.52 377.90C430.85 377.72 437.48 375.76 438.80 375.50C440.12 375.24 446.75 374.36 448.07 374.20C449.40 374.04 456.03 373.45 457.35 373.20C458.68 372.95 465.30 371.19 466.62 370.75C467.95 370.31 474.57 367.57 475.90 367.00C477.22 366.43 483.85 363.59 485.18 362.75C486.50 361.91 493.13 355.79 494.45 355.25C495.78 354.71 502.40 355.73 503.73 355.25C505.05 354.77 512.34 349.03 513.00 348.55" fill="none" stroke="#111" stroke-width="1.05"/>
<path d="M429.52 363V368M426.52 363h6.0" stroke="#1c1c1c" stroke-width="0.9" fill="none"/>
<path d="M438.80 363V367M435.80 363h6.0" stroke="#1c1c1c" stroke-width="0.9" fill="none"/>
<path d="M448.07 362.5V367M445.07 362.5h6.0" stroke="#1c1c1c" stroke-width="0.9" fill="none"/>
<path d="M457.35 362V366.75M454.35 362h6.0" stroke="#1c1c1c" stroke-width="0.9" fill="none"/>
<path d="M466.62 325V340.5M463.62 325h6.0" stroke="#1c1c1c" stroke-width="0.9" fill="none"/>
<path d="M475.90 295V317.5M472.90 295h6.0" stroke="#1c1c1c" stroke-width="0.9" fill="none"/>
<path d="M485.18 278.75V303M482.18 278.75h6.0" stroke="#1c1c1c" stroke-width="0.9" fill="none"/>
<path d="M494.45 251.75V266.75M491.45 251.75h6.0" stroke="#1c1c1c" stroke-width="0.9" fill="none"/>
<path d="M503.73 234.25V248M500.73 234.25h6.0" stroke="#1c1c1c" stroke-width="0.9" fill="none"/>
<path d="M513.00 228.2V245M510.00 228.2h6.0" stroke="#1c1c1c" stroke-width="0.9" fill="none"/>
<polyline points="392.43,377.5 401.70,377.5 410.98,377 420.25,375.5 429.52,368 438.80,367 448.07,367 457.35,366.75 466.62,340.5 475.90,317.5 485.18,303 494.45,266.75 503.73,248 513.00,245" fill="none" stroke="#000" stroke-width="1.2"/>
<ellipse cx="392.43" cy="377.5" rx="2.9" ry="2.46" fill="#000"/>
<ellipse cx="401.70" cy="377.5" rx="2.9" ry="2.46" fill="#000"/>
<ellipse cx="410.98" cy="377" rx="2.9" ry="2.46" fill="#000"/>
<ellipse cx="420.25" cy="375.5" rx="2.9" ry="2.46" fill="#000"/>
<ellipse cx="429.52" cy="368" rx="2.9" ry="2.46" fill="#000"/>
<ellipse cx="438.80" cy="367" rx="2.9" ry="2.46" fill="#000"/>
<ellipse cx="448.07" cy="367" rx="2.9" ry="2.46" fill="#000"/>
<ellipse cx="457.35" cy="366.75" rx="2.9" ry="2.46" fill="#000"/>
<ellipse cx="466.62" cy="340.5" rx="2.9" ry="2.46" fill="#000"/>
<ellipse cx="475.90" cy="317.5" rx="2.9" ry="2.46" fill="#000"/>
<ellipse cx="485.18" cy="303" rx="2.9" ry="2.46" fill="#000"/>
<ellipse cx="494.45" cy="266.75" rx="2.9" ry="2.46" fill="#000"/>
<ellipse cx="503.73" cy="248" rx="2.9" ry="2.46" fill="#000"/>
<ellipse cx="513.00" cy="245" rx="2.9" ry="2.46" fill="#000"/>
</g>
<path d="M340.4 235.5H359.6" stroke="#333" stroke-width="0.95"/>
<ellipse cx="348.4" cy="235.5" rx="2.6999999999999997" ry="2.29" fill="#000"/>
<path d="M340.4 254.25H359.6" stroke="#777" stroke-width="0.9"/>
<ellipse cx="348.4" cy="254.25" rx="2.5" ry="2.12" fill="#fff" stroke="#999" stroke-width="0.8"/>
<text transform="translate(365.00,239.10) scale(1.13,1.0)" font-size="11.5" text-anchor="start" font-weight="bold" fill="#000" stroke="#000" stroke-width="0.3">PBS</text>
<text transform="translate(365.00,257.00) scale(1.13,1.0)" font-size="11.5" text-anchor="start" font-weight="bold" fill="#000" stroke="#000" stroke-width="0.3">Hirudin</text>
</g>
</svg>
</body></html>
